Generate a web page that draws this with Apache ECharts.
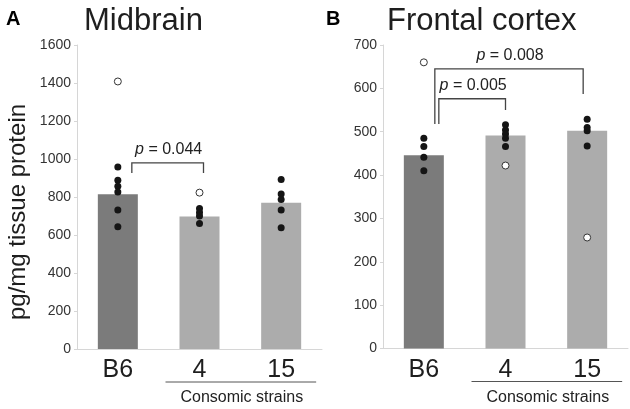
<!DOCTYPE html>
<html><head><meta charset="utf-8">
<script src="https://cdn.jsdelivr.net/npm/echarts@6/dist/echarts.min.js"></script>
<style>html,body{margin:0;padding:0;background:#fff}#c{width:630px;height:409px}</style>
</head><body><div id="c"></div>
<script>
// ---- data ----
const categories = ['B6', '4', '15'];
const midMeans = [815, 697, 770];
const midDots = [[958, 888, 857, 826, 731, 644], [740, 719, 700, 661], [892, 816, 787, 731, 638]];
const midOpen = [[1408], [823], []];
const ctxMeans = [446, 491, 502];
const ctxDots = [[485, 466, 441, 410], [516, 504, 495, 485, 466], [529, 510, 502, 467]];
const ctxOpen = [[660], [422], [256]];
const midTicks = {min: 0, max: 1600, interval: 200};
const ctxTicks = {min: 0, max: 700, interval: 100};
// brackets: [fromCat, toCat, topValue, leftLegEnd, rightLegEnd, label]
const midBrackets = [[0, 1, 980, 926, 926, '0.044']];
const ctxBrackets = [[0, 1, 576, 518, 550, '0.005'], [0, 2, 645, 518, 587, '0.008']];

const FONT = '"Liberation Sans", Arial, sans-serif';
const barColors = ['#7b7b7b', '#acacac', '#acacac'];
const toPts = arr => arr.flatMap((a, i) => a.map(v => [i, v]));

const chart = echarts.init(document.getElementById('c'), null, {renderer: 'canvas'});

function xAx(g) {
  return {
    type: 'category', gridIndex: g, data: categories,
    axisLine: {lineStyle: {color: '#d6d6d6', width: 1}},
    axisTick: {show: false},
    axisLabel: {fontSize: 25, color: '#1e1e1e', margin: 9, fontFamily: FONT}
  };
}
function yAx(g, t) {
  return {
    type: 'value', gridIndex: g, min: t.min, max: t.max, interval: t.interval,
    splitLine: {show: false},
    axisLine: {show: true, lineStyle: {color: '#d6d6d6', width: 1}},
    axisTick: {show: true, length: 3, lineStyle: {color: '#d6d6d6'}},
    axisLabel: {fontSize: 14, color: '#333', margin: 6, fontFamily: FONT, formatter: v => String(v)}
  };
}
function barSeries(g, means) {
  return {
    type: 'bar', xAxisIndex: g, yAxisIndex: g, barWidth: 40,
    data: means.map((v, i) => ({value: v, itemStyle: {color: barColors[i]}})),
    silent: true, z: 1
  };
}
function dotSeries(g, arr) {
  return {
    type: 'scatter', xAxisIndex: g, yAxisIndex: g, symbolSize: 7,
    data: toPts(arr), itemStyle: {color: '#151515', opacity: 1}, z: 3, silent: true
  };
}
function openSeries(g, arr) {
  return {
    type: 'scatter', xAxisIndex: g, yAxisIndex: g, symbolSize: 7,
    data: toPts(arr), itemStyle: {color: '#ffffff', borderColor: '#333', borderWidth: 1, opacity: 1}, z: 4, silent: true
  };
}

chart.setOption({
  animation: false,
  backgroundColor: '#fff',
  grid: [
    {left: 77, top: 45, width: 245, height: 304},
    {left: 383, top: 45, width: 245, height: 303.5}
  ],
  xAxis: [xAx(0), xAx(1)],
  yAxis: [yAx(0, midTicks), yAx(1, ctxTicks)],
  series: [
    barSeries(0, midMeans), dotSeries(0, midDots), openSeries(0, midOpen),
    barSeries(1, ctxMeans), dotSeries(1, ctxDots), openSeries(1, ctxOpen)
  ]
});

// ---- annotations computed through the axes ----
const gfx = [];
function px(g, cat, val) { return chart.convertToPixel({gridIndex: g}, [cat, val]); }
const offs = {mid: [[14, 4]], ctx: [[15, 0], [11, -4]]};
function addBrackets(g, list, off) {
  list.forEach((b, k) => {
    const [c1, c2, top, l1, l2, lab] = b;
    const pTopL = px(g, c1, top), pTopR = px(g, c2, top);
    const x1 = pTopL[0] + off[k][0], x2 = pTopR[0] + off[k][1];
    const yT = pTopL[1], yL = px(g, c1, l1)[1], yR = px(g, c2, l2)[1];
    gfx.push({type: 'polyline', silent: true, shape: {points: [[x1, yL], [x1, yT], [x2, yT], [x2, yR]]},
      style: {stroke: '#444', lineWidth: 1.3, fill: null}});
    gfx.push({type: 'text', silent: true, x: (x1 + x2) / 2 + 1, y: yT - 13,
      style: {text: '{i|p} = ' + lab, font: '16px ' + FONT, fill: '#222', align: 'center', verticalAlign: 'middle',
        rich: {i: {fontStyle: 'italic', fontSize: 16, fontFamily: FONT, fill: '#222'}}}});
  });
}
addBrackets(0, midBrackets, offs.mid);
addBrackets(1, ctxBrackets, offs.ctx);

function addStrainLabel(g) {
  const a = px(g, 1, 0), b = px(g, 2, 0);
  const x1 = a[0] - 34, x2 = b[0] + 35, y = a[1] + 33;
  gfx.push({type: 'line', silent: true, shape: {x1: x1, y1: y, x2: x2, y2: y}, style: {stroke: '#555', lineWidth: 1}});
  gfx.push({type: 'text', silent: true, x: (x1 + x2) / 2 + 1, y: y + 16,
    style: {text: 'Consomic strains', font: '16px ' + FONT, fill: '#222', align: 'center', verticalAlign: 'middle'}});
}
addStrainLabel(0);
addStrainLabel(1);

gfx.push({type: 'text', silent: true, left: 6, top: 9, style: {text: 'A', font: 'bold 20px ' + FONT, fill: '#000'}});
gfx.push({type: 'text', silent: true, left: 326, top: 9, style: {text: 'B', font: 'bold 20px ' + FONT, fill: '#000'}});
gfx.push({type: 'text', silent: true, left: 84, top: 6, style: {text: 'Midbrain', font: '31px ' + FONT, fill: '#1e1e1e'}});
gfx.push({type: 'text', silent: true, left: 387, top: 6, style: {text: 'Frontal cortex', font: '31px ' + FONT, fill: '#1e1e1e'}});
gfx.push({type: 'text', silent: true, x: 18, y: 212, rotation: Math.PI / 2,
  style: {text: 'pg/mg tissue protein', font: '24px ' + FONT, fill: '#1e1e1e', align: 'center', verticalAlign: 'middle'}});

chart.setOption({graphic: {elements: gfx}});
</script>
</body></html>
